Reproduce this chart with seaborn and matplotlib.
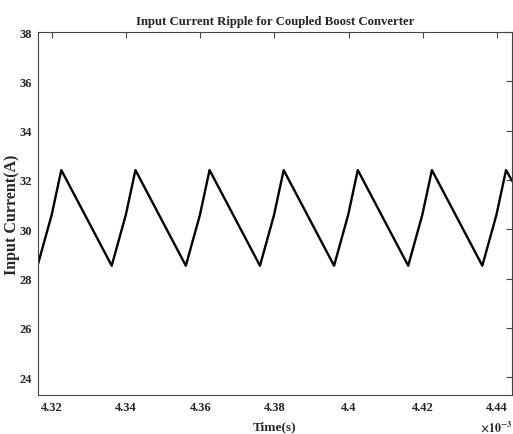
import pandas as pd
import matplotlib
matplotlib.use("Agg")
import matplotlib.pyplot as plt
from matplotlib.ticker import FuncFormatter
import seaborn as sns

# corner points of the ripple waveform (time in ms)
time_ms = [4.3162, 4.3199, 4.3225, 4.3361, 4.3399, 4.3425, 4.3561, 4.3599,
           4.3625, 4.3761, 4.3799, 4.3825, 4.3961, 4.3999, 4.4025, 4.4161,
           4.4199, 4.4225, 4.4361, 4.4399, 4.4425, 4.4441]
current = [28.58, 30.58, 32.40, 28.52, 30.58, 32.40, 28.52, 30.58,
           32.40, 28.52, 30.58, 32.40, 28.52, 30.58, 32.40, 28.52,
           30.58, 32.40, 28.52, 30.58, 32.40, 31.97]

x_ticks = [4.32, 4.34, 4.36, 4.38, 4.40, 4.42, 4.44]
y_ticks = [24, 26, 28, 30, 32, 34, 36, 38]

df = pd.DataFrame({"time": [t * 1e-3 for t in time_ms], "current": current})

sns.set_style("white")
plt.rcParams['font.family'] = ['Liberation Serif', 'DejaVu Serif']
plt.rcParams['font.weight'] = 'bold'
plt.rcParams['mathtext.fontset'] = 'stix'

fig = plt.figure(figsize=(5.13, 4.35), dpi=100)
ax = fig.add_axes([0.074, 0.090, 0.924, 0.834])

sns.lineplot(x="time", y="current", data=df, color="black", linewidth=1.7,
             estimator=None, ax=ax)

ax.set_xlim(4.3162e-3, 4.4441e-3)
ax.set_ylim(23.28, 38)
ax.set_xticks([v * 1e-3 for v in x_ticks])
ax.set_yticks(y_ticks)
ax.xaxis.set_major_formatter(FuncFormatter(lambda v, p: f"{v * 1e3:g}"))

for s in ax.spines.values():
    s.set_visible(True)
    s.set_color("#444444")
    s.set_linewidth(0.8)
ax.tick_params(direction="in", length=4, width=0.8, color="#444444",
               top=True, right=True, labelsize=9, pad=4.5)
for lab in ax.get_xticklabels() + ax.get_yticklabels():
    lab.set_fontweight("bold")

ax.set_title("Input Current Ripple for Coupled Boost Converter",
             fontsize=9.2, fontweight="bold", pad=6)
ax.set_xlabel("Time(s)", fontsize=9.5, fontweight="bold", labelpad=5.5)
ax.set_ylabel("Input Current(A)", fontsize=11.5, fontweight="bold")
ax.yaxis.set_label_coords(-0.037, 0.5)
ax.text(1.0, -0.085, r"$\times10^{-3}$", transform=ax.transAxes,
        ha="right", va="center", fontsize=8.5)

fig.savefig("out.png", dpi=100)
